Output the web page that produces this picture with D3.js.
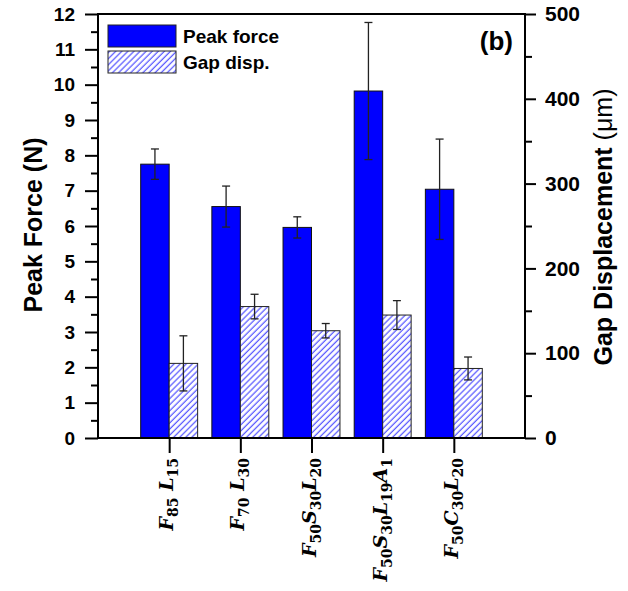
<!DOCTYPE html>
<html><head><meta charset="utf-8">
<script src="https://cdn.jsdelivr.net/npm/d3@7"></script>
<style>
body{margin:0;background:#fff;}
svg{display:block;}
</style></head>
<body>
<script>
// ---- data ----
const categories = ["F_85 L_15", "F_70 L_30", "F_50S_30L_20", "F_50S_30L_19A_1", "F_50C_30L_20"];
const peakForce = [7.75, 6.55, 5.96, 9.82, 7.04];
const peakForceErr = [0.43, 0.58, 0.30, 1.94, 1.42];
const gapDisp = [88, 155, 126.5, 145, 82];
const gapDispErr = [32.5, 14.5, 8.5, 17, 13.5];
const leftTicks = [0,1,2,3,4,5,6,7,8,9,10,11,12];
const rightTicks = [0,100,200,300,400,500];
const seriesNames = ["Peak force", "Gap disp."];

const W = 628, H = 591;
const L = 98, R = 525, T = 14, B = 438;
const svg = d3.select("body").append("svg").attr("width", W).attr("height", H);

const defs = svg.append("defs");
const pat = defs.append("pattern").attr("id","hatch").attr("patternUnits","userSpaceOnUse")
  .attr("width",4.3).attr("height",10).attr("patternTransform","rotate(45)");
pat.append("rect").attr("width",4.3).attr("height",10).style("fill","#ffffff");
pat.append("line").attr("x1",2).attr("x2",2).attr("y1",0).attr("y2",10)
  .style("stroke","#5c5cff").style("stroke-width",1.3);

const x = d3.scaleLinear().domain([0, categories.length + 1]).range([L, R]);
const yL = d3.scaleLinear().domain([0, 12]).range([B, T]);
const yR = d3.scaleLinear().domain([0, 500]).range([B, T]);
const bw = x(0.4) - x(0);

const font = "Arial, 'Liberation Sans', sans-serif";

// bars
const g = svg.append("g");
categories.forEach((c, i) => {
  const cx = x(i + 1);
  g.append("rect").attr("x", cx - bw).attr("y", yL(peakForce[i]))
    .attr("width", bw).attr("height", yL(0) - yL(peakForce[i]))
    .attr("fill", "#0000ff").attr("stroke", "#111").attr("stroke-width", 1);
  g.append("rect").attr("x", cx).attr("y", yR(gapDisp[i]))
    .attr("width", bw).attr("height", yR(0) - yR(gapDisp[i]))
    .attr("fill", "url(#hatch)").attr("stroke", "#222").attr("stroke-width", 1);
});
// error bars
function errBar(xc, y0, y1) {
  g.append("line").attr("x1", xc).attr("x2", xc).attr("y1", y0).attr("y2", y1)
    .attr("stroke", "#222").attr("stroke-width", 1.3);
  [y0, y1].forEach(yy => g.append("line").attr("x1", xc - 4).attr("x2", xc + 4)
    .attr("y1", yy).attr("y2", yy).attr("stroke", "#222").attr("stroke-width", 1.3));
}
categories.forEach((c, i) => {
  const cx = x(i + 1);
  errBar(cx - bw / 2, yL(peakForce[i] + peakForceErr[i]), yL(peakForce[i] - peakForceErr[i]));
  errBar(cx + bw / 2, yR(gapDisp[i] + gapDispErr[i]), yR(gapDisp[i] - gapDispErr[i]));
});

// axes
function styleAxis(size) {
  return sel => {
    sel.select(".domain").remove();
    sel.selectAll(".tick line").attr("stroke", "#000").attr("stroke-width", 2);
    sel.selectAll(".tick text").attr("font-family", font).attr("font-weight", "bold")
      .attr("font-size", size).attr("fill", "#000");
  };
}
const minorL = d3.range(0.5, 12, 1);
svg.append("g").attr("transform", `translate(${L},0)`)
  .call(d3.axisLeft(yL).tickValues(minorL).tickSize(7).tickFormat("")).call(styleAxis(19));
svg.append("g").attr("transform", `translate(${L},0)`)
  .call(d3.axisLeft(yL).tickValues(leftTicks).tickSize(13).tickPadding(10).tickFormat(d3.format("d")))
  .call(styleAxis(19));
const minorR = d3.range(50, 500, 100);
svg.append("g").attr("transform", `translate(${R},0)`)
  .call(d3.axisRight(yR).tickValues(minorR).tickSize(7).tickFormat("")).call(styleAxis(21));
svg.append("g").attr("transform", `translate(${R},0)`)
  .call(d3.axisRight(yR).tickValues(rightTicks).tickSize(11).tickPadding(9).tickFormat(d3.format("d")))
  .call(styleAxis(21));
svg.append("g").attr("transform", `translate(0,${B})`)
  .call(d3.axisBottom(x).tickValues(d3.range(1, categories.length + 1)).tickSize(15).tickFormat(""))
  .call(styleAxis(19));

// frame
svg.append("rect").attr("x", L).attr("y", T).attr("width", R - L).attr("height", B - T)
  .attr("fill", "none").attr("stroke", "#000").attr("stroke-width", 2);

// category labels
categories.forEach((c, i) => {
  const cx = x(i + 1);
  const t = svg.append("text").attr("transform", `translate(${cx + 4},458) rotate(-90)`)
    .attr("text-anchor", "end").attr("font-family", "'DejaVu Serif', serif")
    .attr("font-weight", "bold").attr("fill", "#000").attr("font-size", 19);
  const re = /([A-Z])_(\d+)|( )/g;
  let m, shifted = false;
  while ((m = re.exec(c)) !== null) {
    if (m[3]) {
      t.append("tspan").attr("dy", shifted ? -5 : 0).text("\u00a0");
      shifted = false;
      continue;
    }
    t.append("tspan").attr("font-style", "italic").attr("dy", shifted ? -5 : 0).text(m[1]);
    t.append("tspan").attr("font-size", 14).attr("dy", 5).text(m[2]);
    shifted = true;
  }
});

// axis titles
svg.append("text").attr("transform", "translate(42,225) rotate(-90)")
  .attr("text-anchor", "middle").attr("font-family", font).attr("font-weight", "bold")
  .attr("font-size", 25).text("Peak Force (N)");
const rt = svg.append("text").attr("transform", "translate(612,227) rotate(-90)")
  .attr("text-anchor", "middle").attr("font-family", font).attr("font-weight", "bold")
  .attr("font-size", 25);
rt.append("tspan").text("Gap Displacement ");
rt.append("tspan").attr("font-weight", "normal").text("(\u03bcm)");

// legend
const legY = [25, 51];
seriesNames.forEach((n, i) => {
  svg.append("rect").attr("x", 108).attr("y", legY[i]).attr("width", 68).attr("height", 22)
    .attr("fill", i === 0 ? "#0000ff" : "url(#hatch)").attr("stroke", "#222").attr("stroke-width", 1);
  svg.append("text").attr("x", 183).attr("y", legY[i] + 18).attr("font-family", font)
    .attr("font-weight", "bold").attr("font-size", 19).text(n);
});
svg.append("text").attr("x", 513).attr("y", 50).attr("text-anchor", "end")
  .attr("font-family", font).attr("font-weight", "bold").attr("font-size", 26).text("(b)");
</script>
</body></html>
